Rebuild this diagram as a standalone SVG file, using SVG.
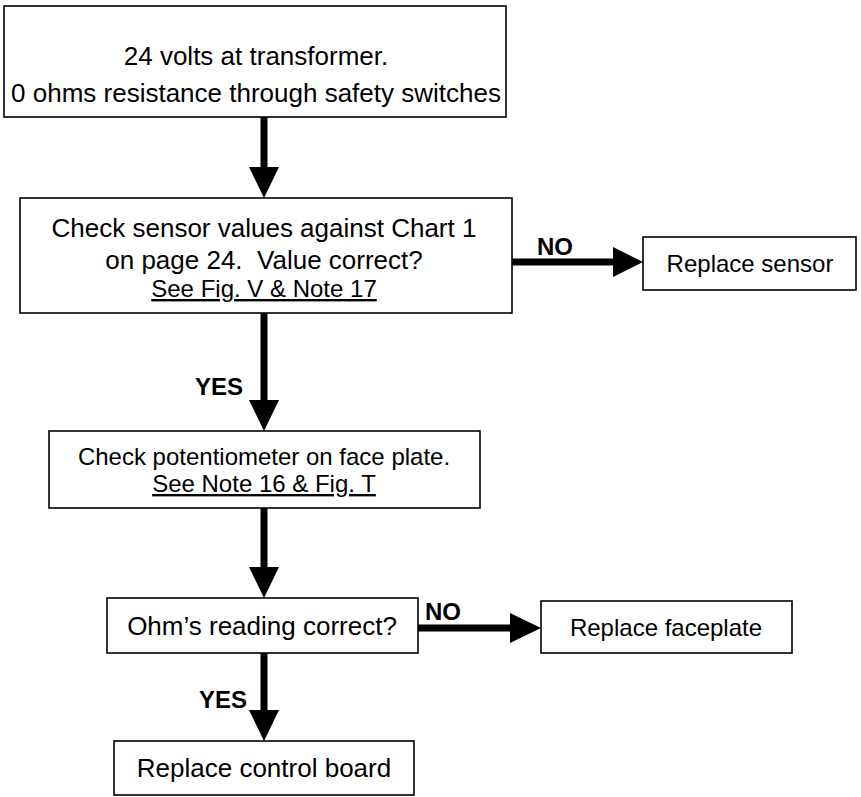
<svg xmlns="http://www.w3.org/2000/svg" width="861" height="797" viewBox="0 0 861 797">
  <style>
    .box { fill: #fff; stroke: #000; stroke-width: 1.6; }
    .t { font-family: "Liberation Sans", Arial, sans-serif; font-size: 26px; fill: #000; text-anchor: middle; white-space: pre; }
    .s { font-size: 24px; }
    .u { text-decoration: underline; }
    .lbl { font-family: "Liberation Sans", Arial, sans-serif; font-size: 24px; font-weight: bold; fill: #000; }
    .edge { stroke: #000; stroke-width: 7; fill: none; }
    .head { fill: #000; }
  </style>
  <rect width="861" height="797" fill="#fff"/>

  <g id="n-transformer">
    <rect class="box" x="4" y="6" width="502" height="111"/>
    <text class="t" x="256" y="65">24 volts at transformer.</text>
    <text class="t" x="256" y="102">0 ohms resistance through safety switches</text>
  </g>

  <g id="n-sensor-check">
    <rect class="box" x="20" y="198" width="492" height="115"/>
    <text class="t" x="264" y="237">Check sensor values against Chart 1</text>
    <text class="t" x="264" y="269" xml:space="preserve">on page 24.  Value correct?</text>
    <text class="t s u" x="264" y="297">See Fig. V &amp; Note 17</text>
  </g>

  <g id="n-replace-sensor">
    <rect class="box" x="643" y="237" width="213" height="53"/>
    <text class="t s" x="750" y="272">Replace sensor</text>
  </g>

  <g id="n-potentiometer">
    <rect class="box" x="49" y="431" width="431" height="77"/>
    <text class="t s" x="264" y="465">Check potentiometer on face plate.</text>
    <text class="t s u" x="264" y="492">See Note 16 &amp; Fig. T</text>
  </g>

  <g id="n-ohms">
    <rect class="box" x="107" y="598" width="311" height="55"/>
    <text class="t" x="262" y="635">Ohm’s reading correct?</text>
  </g>

  <g id="n-replace-faceplate">
    <rect class="box" x="541" y="601" width="251" height="52"/>
    <text class="t s" x="666" y="636">Replace faceplate</text>
  </g>

  <g id="n-control-board">
    <rect class="box" x="114" y="741" width="300" height="54"/>
    <text class="t" x="264" y="777">Replace control board</text>
  </g>

  <g id="connectors">
    <!-- transformer -> sensor check -->
    <line class="edge" x1="264" y1="117" x2="264" y2="168"/>
    <polygon class="head" points="249,167 279,167 264,198"/>

    <!-- sensor check NO -> replace sensor -->
    <line class="edge" x1="512" y1="262" x2="614" y2="262"/>
    <polygon class="head" points="613,247 613,277 643,262"/>
    <text class="lbl" x="537" y="255">NO</text>

    <!-- sensor check YES -> potentiometer -->
    <line class="edge" x1="264" y1="313" x2="264" y2="401"/>
    <polygon class="head" points="249,400 279,400 264,431"/>
    <text class="lbl" x="243" y="395" text-anchor="end">YES</text>

    <!-- potentiometer -> ohms -->
    <line class="edge" x1="264" y1="508" x2="264" y2="568"/>
    <polygon class="head" points="249,567 279,567 264,598"/>

    <!-- ohms NO -> replace faceplate -->
    <line class="edge" x1="418" y1="628" x2="511" y2="628"/>
    <polygon class="head" points="510,613 510,643 541,628"/>
    <text class="lbl" x="425" y="620">NO</text>

    <!-- ohms YES -> control board -->
    <line class="edge" x1="264" y1="653" x2="264" y2="711"/>
    <polygon class="head" points="249,710 279,710 264,741"/>
    <text class="lbl" x="247" y="708" text-anchor="end">YES</text>
  </g>
</svg>
